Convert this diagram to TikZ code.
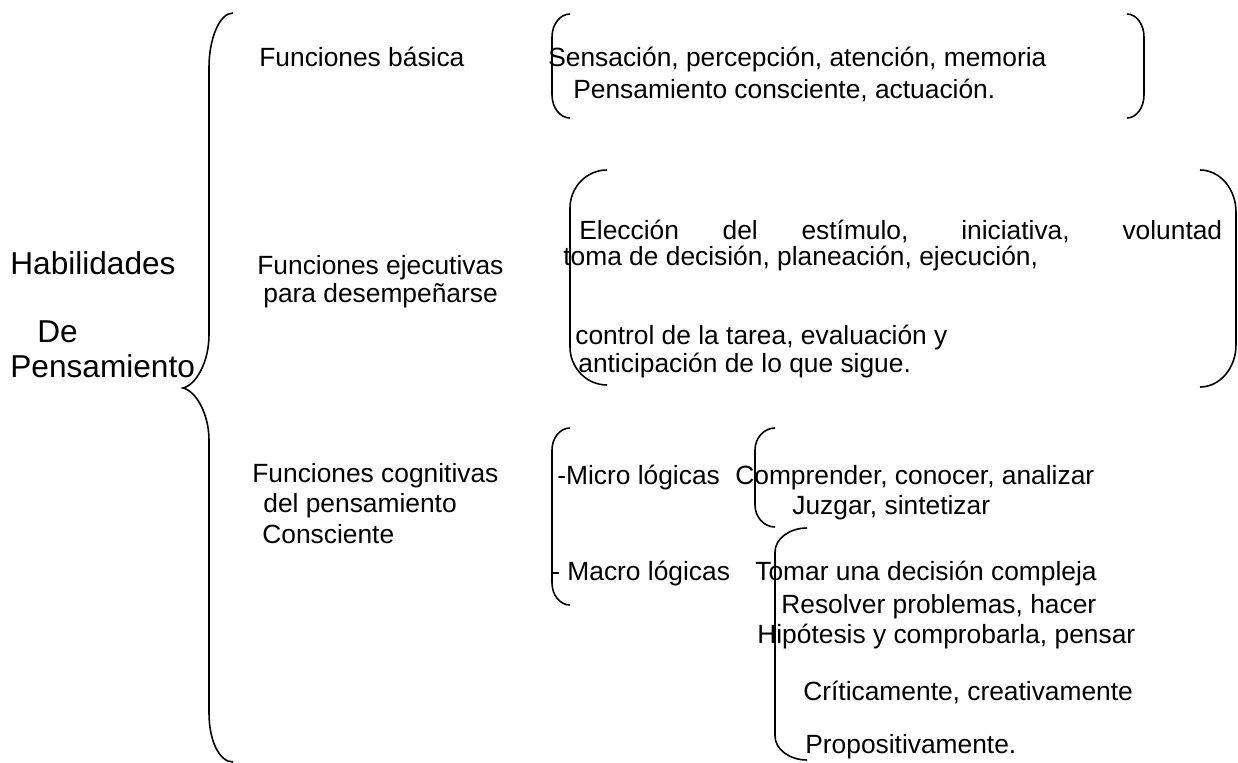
\documentclass[tikz,border=0pt]{standalone}
\usepackage{fontspec}
\setmainfont{Liberation Sans}
\usepackage{tikz}
\tikzset{texto/.style={anchor=base west,inner sep=0pt,font=\fontsize{15}{17}\selectfont}}
\tikzset{titulo/.style={anchor=base west,inner sep=0pt,font=\fontsize{18}{20}\selectfont}}
\tikzset{linea/.style={draw=black,line width=0.9pt}}
% llave simple: x vertical, x extremos, y arriba, y abajo, radio
\newcommand{\corchete}[5]{\draw[linea] (#2,#3) .. controls ({#1+0.45*(#2-#1)},#3) and (#1,{#3+0.45*#5}) .. (#1,{#3+#5}) -- (#1,{#4-#5}) .. controls (#1,{#4-0.45*#5}) and ({#1+0.45*(#2-#1)},#4) .. (#2,#4);}

\begin{document}
\begin{tikzpicture}[x=0.02cm,y=-0.02cm]
  \useasboundingbox (0,0) rectangle (1238,763);
  % llave grande
  \draw[linea] (233,13) .. controls (219,13) and (209,40) .. (209,67) -- (209,335)
        .. controls (209,362) and (196,385) .. (183,388)
        .. controls (196,391) and (209,414) .. (209,440) -- (209,713)
        .. controls (209,740) and (219,762) .. (233,762);
  \node[titulo] (hab) at (10,275) {Habilidades};
  \node[titulo] (de) at (37,343) {De};
  \node[titulo] (pens) at (10,378) {Pensamiento};

  % funciones basicas
  \node[texto] (basicas) at (259,67) {Funciones básica};
  \corchete{552}{570}{14}{118}{23}
  \corchete{1144}{1127}{14}{118}{23}
  \node[texto] (sens1) at (548,67) {Sensación, percepción, atención, memoria};
  \node[texto] (sens2) at (573,99) {Pensamiento consciente, actuación.};

  % funciones ejecutivas
  \node[texto] (ejec1) at (257,275) {Funciones ejecutivas};
  \node[texto] (ejec2) at (263,303) {para desempeñarse};
  \corchete{570}{607}{170}{385}{38}
  \corchete{1236}{1200}{170}{387}{42}
  \node[texto] (elec) at (579,240) {\makebox[12.86cm][s]{Elección del estímulo, iniciativa, voluntad}};
  \node[texto] (toma) at (563,266) {toma de decisión, planeación, ejecución,};
  \node[texto] (control) at (575,345) {control de la tarea, evaluación y};
  \node[texto] (antic) at (578,373) {anticipación de lo que sigue.};

  % funciones cognitivas
  \node[texto] (cogn1) at (252,483) {Funciones cognitivas};
  \node[texto] (cogn2) at (263,513) {del pensamiento};
  \node[texto] (cogn3) at (262,543) {Consciente};
  \corchete{552}{570}{428}{605}{22}
  \node[texto] (micro) at (557,485) {-Micro lógicas};
  \node[texto] (macro) at (551,581) {- Macro lógicas};
  \corchete{755}{775}{428}{527}{22}
  \node[texto] (compr) at (735,485) {Comprender, conocer, analizar};
  \node[texto] (juzg) at (792,515) {Juzgar, sintetizar};
  \corchete{775}{807}{528}{760}{24}
  \node[texto] (tomar) at (755,581) {Tomar una decisión compleja};
  \node[texto] (resol) at (781,613) {Resolver problemas, hacer};
  \node[texto] (hipot) at (757,643) {Hipótesis y comprobarla, pensar};
  \node[texto] (critic) at (803,700) {Críticamente, creativamente};
  \node[texto] (propos) at (805,753) {Propositivamente.};
\end{tikzpicture}
\end{document}
